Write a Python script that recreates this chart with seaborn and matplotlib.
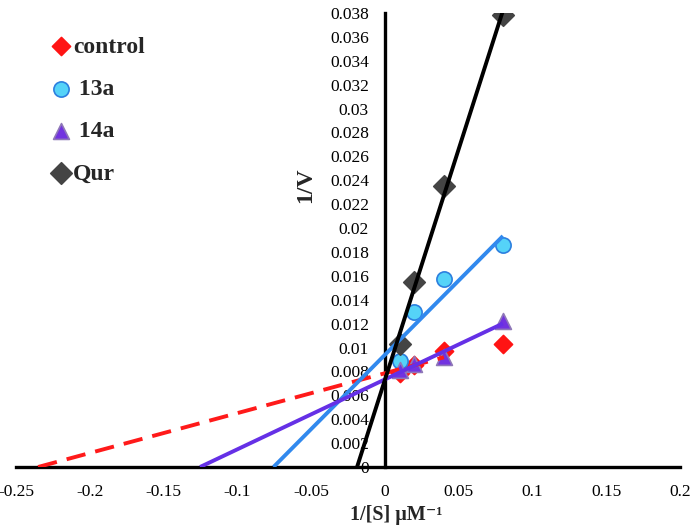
import numpy as np
import pandas as pd
import matplotlib
matplotlib.use("Agg")
import matplotlib.pyplot as plt
import seaborn as sns
from matplotlib.ticker import FixedLocator, FixedFormatter

# ---------------- data ----------------
inv_s = [0.01, 0.02, 0.04, 0.08]
control = [0.0079, 0.0085, 0.0097, 0.0103]
cpd_13a = [0.0089, 0.0130, 0.0157, 0.0186]
cpd_14a = [0.0081, 0.0086, 0.0092, 0.0122]
qur = [0.0103, 0.0155, 0.0235, 0.0378]
series_names = ["control", "13a", "14a", "Qur"]
legend_labels = ["control", " 13a", " 14a", "Qur"]

xtick_values = [-0.25, -0.2, -0.15, -0.1, -0.05, 0, 0.05, 0.1, 0.15, 0.2]
xtick_labels = ["-0.25", "-0.2", "-0.15", "-0.1", "-0.05", "0", "0.05", "0.1", "0.15", "0.2"]
ytick_values = [0, 0.002, 0.004, 0.006, 0.008, 0.01, 0.012, 0.014, 0.016, 0.018,
                0.02, 0.022, 0.024, 0.026, 0.028, 0.03, 0.032, 0.034, 0.036, 0.038]
ytick_labels = ["0", "0.002", "0.004", "0.006", "0.008", "0.01", "0.012", "0.014",
                "0.016", "0.018", "0.02", "0.022", "0.024", "0.026", "0.028", "0.03",
                "0.032", "0.034", "0.036", "0.038"]
x_label = "1/[S] μM⁻¹"
y_label = "1/V"

# ---------------- style ----------------
sns.set_style("white")
plt.rcParams["font.family"] = ["Liberation Serif", "DejaVu Serif"]

styles = {
    "control": dict(marker="D", face="#FF1414", edge="#FF1414", s=85, line="#FF1A1A", dash=True),
    "13a": dict(marker="o", face="#55D3F8", edge="#2C7FDF", s=120, line="#3189EE", dash=False),
    "14a": dict(marker="^", face="#7233E0", edge="#8F78B8", s=130, line="#6530E6", dash=False),
    "Qur": dict(marker="D", face="#444444", edge="#444444", s=120, line="#000000", dash=False),
}
values = {"control": control, "13a": cpd_13a, "14a": cpd_14a, "Qur": qur}

fig = plt.figure(figsize=(6.91, 5.27), dpi=100)
ax = fig.add_axes([16 / 691, 60 / 527, 664 / 691, 454 / 527])

df = pd.concat([pd.DataFrame({"x": inv_s, "y": values[n], "series": n}) for n in series_names])

handles = []
for name, lab in zip(series_names, legend_labels):
    st = styles[name]
    sub = df[df.series == name]
    sns.scatterplot(data=sub, x="x", y="y", marker=st["marker"], color=st["face"],
                    edgecolor=st["edge"], linewidth=1.2, s=st["s"], ax=ax,
                    label=lab, zorder=3, legend=False)
    handles.append(ax.collections[-1])

# linear (Lineweaver-Burk) trend lines, extended back to the x-intercept
for name in series_names:
    st = styles[name]
    slope, intercept = np.polyfit(inv_s, values[name], 1)
    x0 = -intercept / slope
    x1 = inv_s[2] if name == "control" else inv_s[-1]
    line_df = pd.DataFrame({"x": [x0, x1], "y": [slope * x0 + intercept, slope * x1 + intercept]})
    sns.lineplot(data=line_df, x="x", y="y", color=st["line"], linewidth=2.8,
                 linestyle=(0, (5, 2.6)) if st["dash"] else "-", ax=ax,
                 legend=False, zorder=4, solid_capstyle="butt")

ax.set_xlim(-0.25, 0.2)
ax.set_ylim(0, 0.038)
ax.xaxis.set_major_locator(FixedLocator(xtick_values))
ax.xaxis.set_major_formatter(FixedFormatter(xtick_labels))
ax.yaxis.set_major_locator(FixedLocator(ytick_values))
ax.yaxis.set_major_formatter(FixedFormatter(ytick_labels))

ax.spines["left"].set_position(("data", 0))
ax.spines["right"].set_visible(False)
ax.spines["top"].set_visible(False)
for sp in ("left", "bottom"):
    ax.spines[sp].set_linewidth(2.4)
    ax.spines[sp].set_color("black")
    ax.spines[sp].set_zorder(2)

ax.tick_params(axis="both", direction="out", length=4.5, width=2.4, color="black",
               labelsize=12.5, labelcolor="black")
ax.tick_params(axis="x", pad=8)
ax.tick_params(axis="y", pad=7)
ax.grid(False)

ax.set_xlabel("")
ax.set_ylabel("")
fig.text(396 / 691, 1 - 515 / 527, x_label, ha="center", va="center",
         fontsize=14.5, fontweight="bold", family=["Liberation Serif", "DejaVu Serif"])
fig.text(306 / 691, 1 - 185 / 527, y_label, ha="center", va="center", rotation=90,
         fontsize=17, fontweight="bold")

leg = ax.legend(handles=handles, labels=legend_labels, loc="upper left",
                bbox_to_anchor=(52 / 691, 1 - 36 / 527), bbox_transform=fig.transFigure,
                frameon=False, handlelength=0.8, handletextpad=0.1, labelspacing=0.88,
                borderpad=0, borderaxespad=0,
                prop={"family": "Liberation Serif", "weight": "bold", "size": 17})

fig.savefig("out.png", dpi=100)
